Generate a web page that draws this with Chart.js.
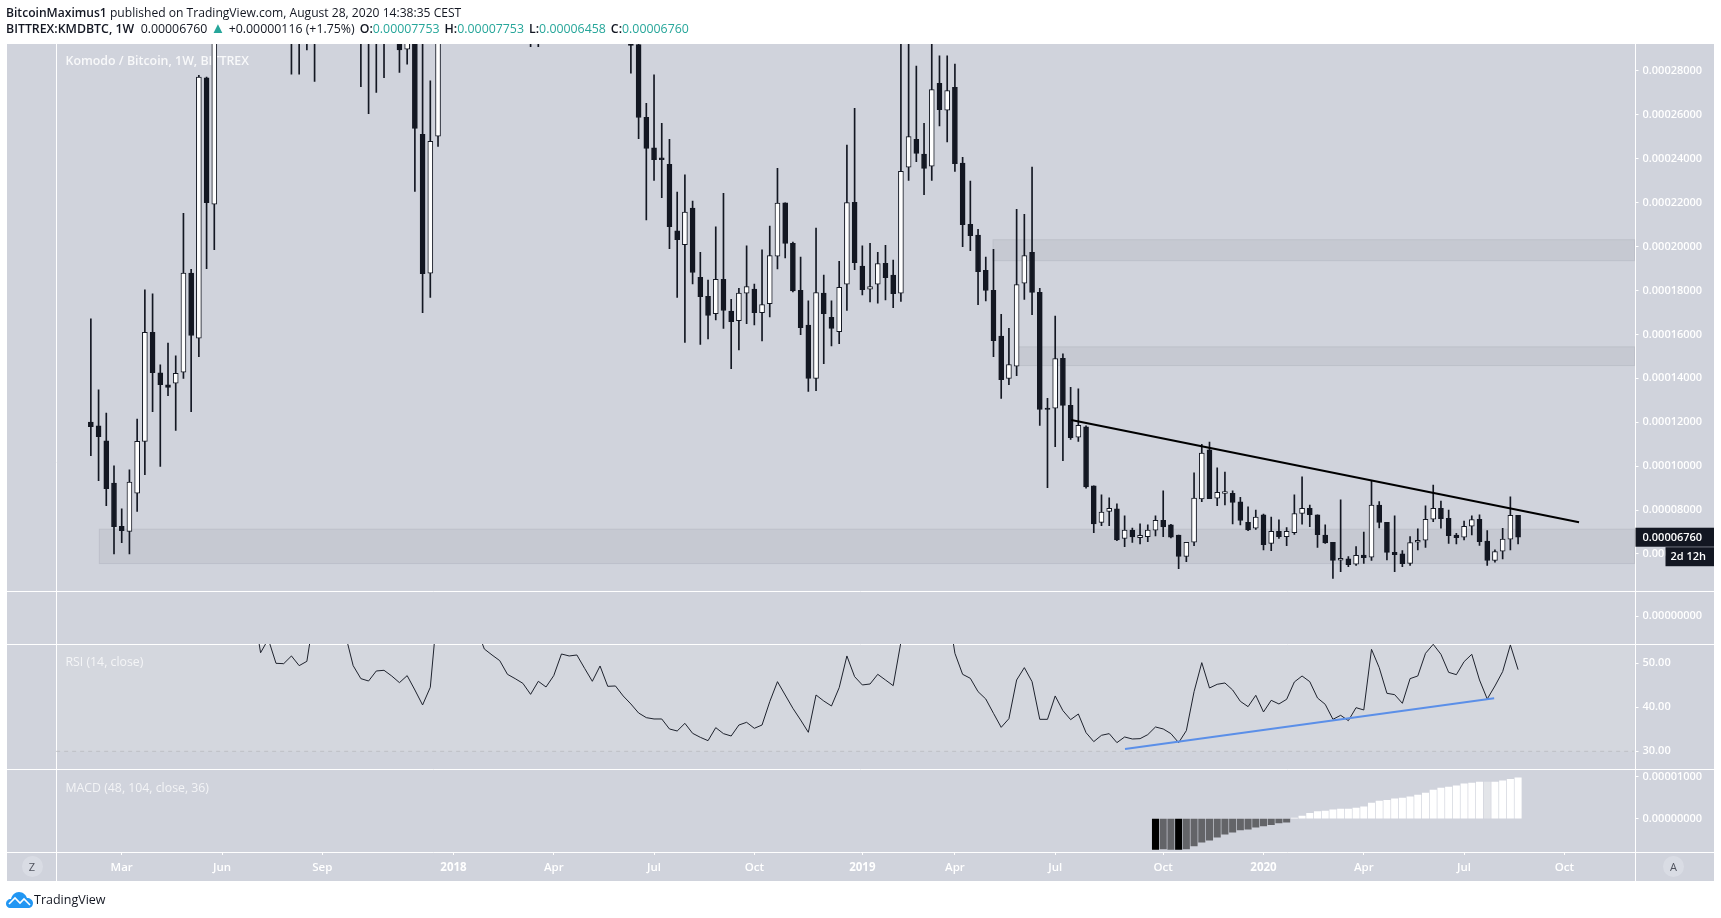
<!DOCTYPE html>
<html>
<head>
<meta charset="utf-8">
<title>KMDBTC</title>
<script src="https://cdn.jsdelivr.net/npm/chart.js@4/dist/chart.umd.js"></script>
<style>
  html, body { margin: 0; padding: 0; background: #fff; overflow: hidden; }
  #wrap { position: relative; width: 1721px; height: 918px; font-family: "Open Sans", sans-serif; color: #131722; }
  canvas { position: absolute; left: 0; top: 0; }
  .head { position: absolute; left: 6px; font-size: 12.1px; white-space: nowrap; line-height: 16px; }
  .head b { font-weight: 600; }
  .up { color: #26a69a; }
  .gap { margin-left: 5px; }
  .round { position: absolute; top: 856px; width: 21px; height: 21px; border-radius: 50%; background: #d9dce4; color: #50535e;
           font-size: 11px; line-height: 21px; text-align: center; }
  #logo { position: absolute; left: 6px; top: 892px; }
  #logoText { position: absolute; left: 34px; top: 891px; font-size: 12.5px; line-height: 17px; }
</style>
</head>
<body>
<div id="wrap">
  <canvas id="grafico" width="1721" height="918"></canvas>
  <div class="head" style="top:5px"><b>BitcoinMaximus1</b> published on TradingView.com, August 28, 2020 14:38:35 CEST</div>
  <div class="head" style="top:21px;font-size:12.35px"><b>BITTREX:KMDBTC, 1W</b>&nbsp; 0.00006760 <span class="up" style="font-size:15px;line-height:10px">▲</span> +0.00000116 (+1.75%)<b class="gap">O:</b><span class="up">0.00007753</span><b class="gap">H:</b><span class="up">0.00007753</span><b class="gap">L:</b><span class="up">0.00006458</span><b class="gap">C:</b><span class="up">0.00006760</span></div>
  <div class="round" style="left:21.5px">Z</div>
  <div class="round" style="left:1663px">A</div>
  <svg id="logo" width="27" height="16" viewBox="0 0 27 16"><path d="M0 12 C0 9 2 7 5 7 C6 3 9 0 13 0 C17 0 20 3 21 6 C24 6 27 8 27 11 C27 14 25 16 22 16 L4 16 C2 16 0 14 0 12 Z" fill="#2196f3"/><path d="M3 12 L9 6 L14 11 L18 7 L24 13" fill="none" stroke="#fff" stroke-width="1.6"/></svg>
  <div id="logoText">TradingView</div>
</div>
<script>
// prices are in units of 0.00001 BTC, one candle per week starting at week 0
const opens = [12.00,11.83,11.15,9.23,7.26,7.03,8.77,11.13,16.10,14.25,13.70,13.78,14.28,18.79,15.83,27.69,21.93,34,52,62,55,70,60,50,44,38,35,33,34,36,33,34,37,35,36,34,33,32,33,31.5,31,28.99,30.5,25.12,18.79,25.03,33,38,42,45,43,40,38,36,38,35,33,35,32,34,37,40,38,36,35,34,35,33,34,32.5,31,29.20,25.89,24.50,24.04,23.75,20.72,20.09,21.75,18.60,17.74,16.95,18.51,17.06,16.63,17.88,18.06,16.99,17.40,19.56,21.99,20.15,18.01,16.43,14.00,17.88,16.78,16.13,18.29,22.02,19.11,18.06,18.29,19.24,18.70,17.88,23.62,24.89,24.21,23.66,27.44,26.21,27.26,23.80,21.02,20.52,18.92,18.01,15.92,13.99,14.55,18.33,19.74,17.92,12.64,12.64,14.91,12.77,11.32,11.79,9.10,7.43,7.93,8.05,6.70,7.09,6.74,6.79,7.08,7.53,7.32,6.86,5.88,6.53,8.50,10.74,8.54,8.76,8.76,8.37,7.44,7.17,7.78,6.48,7.03,6.79,6.97,7.85,8.08,7.78,6.86,6.53,5.71,5.77,5.53,5.95,5.85,8.22,7.44,6.07,6.00,5.57,6.53,6.62,7.58,8.08,7.62,6.86,6.76,7.26,7.58,6.58,5.70,6.12,6.67,7.753];
const highs = [16.71,13.47,12.41,10.01,8.05,9.83,12.14,18.03,17.85,14.61,15.60,15.02,21.52,18.97,27.80,27.72,36,58,70,72,76,78,66,56,50,42,39,38,40,41,38,42,44,40,40,38,37,36,35,35,33,33,33,31,27.55,38,44,46,50,52,48,45,43,41,42,39,37,38,36,40,43,44,42,40,39,37,38,37,36,34.5,33,30.5,26.53,27.82,25.62,24.89,22.48,23.27,22.07,19.74,18.48,20.90,22.43,17.60,18.10,20.03,18.29,19.85,20.94,23.57,21.99,20.21,19.52,17.53,20.84,18.70,17.53,19.33,24.62,26.30,20.03,20.15,19.74,20.06,19.39,31,31,28.22,25.62,30.5,28.69,28.69,28.32,24.07,22.98,20.79,19.52,19.88,16.92,16.28,21.70,21.47,23.62,18.10,13.09,16.84,15.11,13.59,13.52,11.83,9.10,8.69,8.55,8.28,7.73,7.18,7.37,7.32,7.73,8.87,7.35,6.86,6.53,9.69,10.99,11.10,9.92,9.73,8.87,8.58,8.14,8.00,7.81,7.68,7.55,7.20,8.69,9.51,8.23,7.78,7.32,6.53,8.46,5.88,6.33,6.99,9.34,8.38,7.44,7.73,6.15,6.79,7.14,8.19,9.14,8.41,8.00,6.94,7.50,7.73,7.78,7.06,6.18,7.17,8.60,7.753];
const lows = [10.48,9.34,8.20,6.00,6.51,6.00,7.93,9.61,12.48,9.98,13.21,11.62,13.99,12.48,14.99,19.00,19.86,31,48,50,52,55,46,40,34,31,27.85,27.85,28.96,27.52,30,32,31,31,30,27.29,26.06,27.02,27.70,29.5,27.93,28.31,22.51,16.99,17.68,24.56,31,33,37,40,38,36,34,33,33,31,30,29.11,29.11,31,33,36,34,33,32,31,32,30.5,31,29.8,27.90,24.92,21.22,23.01,22.23,19.91,17.68,15.63,18.30,15.54,15.79,16.66,16.27,14.44,15.29,16.49,16.43,15.70,16.80,18.98,19.49,17.94,15.99,13.40,13.44,14.67,15.48,15.58,17.09,18.95,17.80,17.48,17.42,17.57,17.22,17.50,23.01,23.87,22.37,23.01,25.50,24.77,23.42,20.00,19.82,17.36,17.53,14.99,13.08,13.71,14.12,17.59,16.90,11.85,9.02,10.89,10.25,11.21,11.12,9.00,6.97,7.29,7.29,6.60,6.33,6.52,6.45,6.56,6.82,6.79,6.73,5.33,5.65,6.38,8.38,8.52,8.20,8.23,7.37,7.32,7.06,7.12,6.18,6.15,6.71,6.38,6.89,7.35,7.24,6.29,6.48,4.88,5.19,5.42,5.47,5.57,5.70,7.18,5.73,5.19,5.42,5.48,6.18,6.30,7.47,7.17,6.48,6.45,6.64,6.86,6.39,5.47,5.62,5.77,6.18,6.458];
const closes = [11.80,11.34,8.97,7.24,7.06,9.27,11.13,16.10,14.26,13.71,13.58,14.23,18.79,15.95,27.72,22.00,34,52,62,55,70,60,50,44,38,35,33,34,36,33,34,37,35,36,34,33,32,33,31.5,31,28.96,30.5,25.38,18.77,24.80,33,38,42,45,43,40,38,36,38,35,33,35,32,34,37,40,38,36,35,34,35,33,34,32.5,31,29.16,25.88,24.47,23.96,23.96,20.91,20.32,21.57,18.82,17.72,16.86,18.51,17.09,16.58,17.88,18.18,16.99,17.36,19.59,21.98,20.14,17.98,16.31,13.99,17.91,16.95,16.27,18.15,22.01,19.27,18.04,18.18,19.23,18.59,17.86,23.43,25.01,24.24,23.56,27.15,26.24,27.11,23.78,21.00,20.50,18.86,18.00,15.72,13.94,14.63,18.27,19.59,17.91,12.58,12.58,14.90,12.76,11.30,11.86,9.05,7.37,7.90,8.08,6.64,7.08,6.77,6.85,7.08,7.53,7.23,6.76,5.88,6.53,8.54,10.59,8.52,8.81,8.84,8.34,7.52,7.09,7.68,6.42,7.03,6.79,7.03,7.84,8.08,7.79,6.88,6.50,5.70,5.80,5.51,5.94,5.83,8.22,7.43,6.07,5.97,5.56,6.52,6.62,7.58,8.08,7.61,6.83,6.74,7.26,7.56,6.56,5.70,6.11,6.67,7.76,6.76];

// RSI starts at week 14
const rsiStart = 14;
const rsiValues = [68,65,72,75,76,74,70,63.3,52.4,55.5,50.0,49.92,51.67,49.47,50.45,61.6,64,66,63,56.5,49.47,46.52,45.98,48.26,48.41,47.12,45.61,47.2,43.94,40.53,44.55,63.8,66,68,67,64,58,53.26,51.89,50.61,47.5,46.52,45.45,42.95,45.91,44.62,47.2,52.12,51.67,51.89,48.86,45.91,49.39,44.77,44.85,42.58,40.76,38.71,37.65,37.35,37.35,35.08,34.62,36.36,34.09,33.18,32.42,35.38,34.02,33.48,35.98,36.59,35.23,35.98,41.29,45.83,42.8,39.77,37.12,34.32,42.8,41.44,40.3,44.47,51.67,46.97,45.08,45.3,47.5,46.21,44.92,54.8,57,58,60,62,60,63.6,52.27,47.5,46.59,43.56,41.89,38.64,35.45,37.42,46.21,49.02,45.83,37.27,37.27,42.58,39.24,37.2,38.48,34.24,32.2,33.64,34.02,31.97,33.26,32.8,32.88,33.79,35.53,35.08,34.02,31.97,34.7,43.56,50.15,44.39,45.23,45.53,43.94,41.36,40.15,42.73,38.94,41.59,40.76,41.82,45.76,47.12,45.83,42.12,40.68,37.27,38.18,36.97,39.92,39.39,53.18,49.02,43.18,42.88,40.91,46.52,47.12,52.27,54.32,52.05,47.95,47.42,50.38,52.05,46.21,41.89,44.85,48.11,54.17,48.56];

// MACD histogram starts at week 138
const macdStart = 138;
const macdValues = [-0.73,-0.72,-0.73,-0.73,-0.72,-0.65,-0.56,-0.51,-0.44,-0.37,-0.32,-0.27,-0.25,-0.20,-0.17,-0.14,-0.10,-0.08,0.01,0.06,0.13,0.17,0.18,0.21,0.23,0.23,0.25,0.28,0.37,0.42,0.44,0.47,0.49,0.52,0.56,0.61,0.68,0.73,0.75,0.78,0.83,0.85,0.87,0.87,0.87,0.90,0.94,0.97];
const macdBlackWeeks = [138, 141];
const macdFadedWeeks = [181];

const priceTicks = [6,8,10,12,14,16,18,20,22,24,26,28];
const rsiTicks = [30,40,50];
const macdTicks = [0,1];
const dateTickWeeks = [4,17,30,47,60,73,86,100,112,125,139,152,165,178,191];
const dateTickLabels = ["Mar","Jun","Sep","2018","Apr","Jul","Oct","2019","Apr","Jul","Oct","2020","Apr","Jul","Oct"];

const resistanceWeeks = [127.08, 192.9];
const resistancePrices = [12.10, 7.44];
const rsiTrendWeeks = [134.05, 181.9];
const rsiTrendValues = [30.53, 42.05];

const zoneStartWeeks = [1.1, 116.95, 120.07];
const zoneTops = [7.125, 20.31, 15.43];
const zoneBottoms = [5.56, 19.36, 14.58];

const leftLineWeek = -4.5;
const weeks = closes.map((c, i) => i);
const DARK = "#131722";
const FONT = '"Open Sans", sans-serif';

function btc(v) { return (v * 1e-5).toFixed(8); }
function fixedTicks(list) { return scale => { scale.ticks = list.map(v => ({ value: v })); }; }
function axisWidth(scale) { scale.width = 79.5; }
function dateFont(ctx) {
  const label = ctx.tick ? dateTickLabels[dateTickWeeks.indexOf(ctx.tick.value)] : "";
  return { family: FONT, size: 11.5, weight: label && label.length === 4 ? "700" : "600" };
}

function paneAxis(weight, order, min, max, list, label) {
  return {
    type: "linear", position: "right", stack: "panes", stackWeight: weight, weight: order,
    min, max,
    afterBuildTicks: fixedTicks(list),
    afterFit: axisWidth,
    border: { display: false },
    grid: { drawOnChartArea: false, drawTicks: true, tickLength: 4, color: "#ffffff" },
    ticks: { color: "#ffffff", font: { family: FONT, size: 11, weight: "600" }, padding: 4, callback: label, autoSkip: false, maxRotation: 0 }
  };
}

const paneDecor = {
  id: "paneDecor",
  beforeDraw(chart) {
    const { ctx, chartArea: a, scales: s } = chart;
    ctx.save();
    ctx.fillStyle = "#d0d3dc";
    ctx.fillRect(a.left, a.top, s.main.right - a.left, s.x.bottom - a.top);
    ctx.restore();
  },
  beforeDatasetsDraw(chart) {
    const { ctx, chartArea: a, scales: s } = chart;
    const right = s.main.right;
    ctx.save();

    const band = s.rsi.getPixelForValue(30);
    ctx.fillStyle = "#d4d7de";
    ctx.fillRect(s.x.getPixelForValue(leftLineWeek), s.rsi.top, a.right - s.x.getPixelForValue(leftLineWeek), band - s.rsi.top);

    zoneStartWeeks.forEach((w, i) => {
      const x = s.x.getPixelForValue(w);
      const top = s.main.getPixelForValue(zoneTops[i]);
      const bottom = s.main.getPixelForValue(zoneBottoms[i]);
      ctx.fillStyle = "#c6c9d2";
      ctx.fillRect(x, top, a.right - x, bottom - top);
      ctx.strokeStyle = "#bdc0ca";
      ctx.lineWidth = 1;
      ctx.strokeRect(x, top, a.right - x, bottom - top);
    });

    ctx.strokeStyle = "#ffffff";
    ctx.lineWidth = 1;
    ctx.beginPath();
    [s.main.bottom, s.rsi.top, s.rsi.bottom, s.macd.bottom].forEach(y => {
      ctx.moveTo(a.left, Math.round(y) + 0.5);
      ctx.lineTo(right, Math.round(y) + 0.5);
    });
    const lx = Math.round(s.x.getPixelForValue(leftLineWeek)) + 0.5;
    ctx.moveTo(lx, a.top);
    ctx.lineTo(lx, s.x.bottom);
    const rx = Math.round(a.right) + 0.5;
    ctx.moveTo(rx, a.top);
    ctx.lineTo(rx, s.x.bottom);
    ctx.stroke();

    ctx.textAlign = "left";
    ctx.textBaseline = "middle";
    ctx.font = "600 12.4px " + FONT;
    ctx.fillStyle = "rgba(255,255,255,0.85)";
    ctx.fillText("Komodo / Bitcoin, 1W, BITTREX", lx + 9, s.main.top + 17);
    ctx.font = "12.3px " + FONT;
    ctx.fillStyle = "rgba(255,255,255,0.75)";
    ctx.fillText("RSI (14, close)", lx + 9, s.rsi.top + 18);
    ctx.fillText("MACD (48, 104, close, 36)", lx + 9, s.rsi.bottom + 19);
    ctx.restore();
  },
  afterDraw(chart) {
    const { ctx, chartArea: a, scales: s } = chart;
    const right = s.main.right;
    const y = s.main.getPixelForValue(closes[closes.length - 1]);
    ctx.save();
    ctx.fillStyle = DARK;
    ctx.fillRect(a.right + 1, y - 9.5, right - a.right - 1, 19);
    ctx.fillRect(a.right + 31, y + 10, right - a.right - 31, 19);
    ctx.fillStyle = "#ffffff";
    ctx.textBaseline = "middle";
    ctx.textAlign = "left";
    ctx.font = "600 11px " + FONT;
    ctx.fillText(btc(closes[closes.length - 1]), a.right + 8, y + 0.5);
    ctx.fillText("2d 12h", a.right + 36, y + 20);
    ctx.restore();
  }
};

new Chart(document.getElementById("grafico"), {
  type: "bar",
  plugins: [paneDecor],
  data: {
    datasets: [
      {
        label: "wicks", yAxisID: "main", grouped: false, order: 5, barThickness: 1,
        backgroundColor: DARK, borderWidth: 0,
        data: weeks.map(i => ({ x: i, y: [lows[i], highs[i]] }))
      },
      {
        label: "candles", yAxisID: "main", grouped: false, order: 4, barThickness: 5,
        backgroundColor: weeks.map(i => closes[i] >= opens[i] ? "#ffffff" : DARK),
        borderColor: DARK, borderWidth: 1, borderSkipped: false,
        data: weeks.map(i => ({ x: i, y: [opens[i], closes[i]] }))
      },
      {
        label: "resistance", type: "line", yAxisID: "main", order: 1,
        borderColor: "#000000", borderWidth: 2.2, pointRadius: 0,
        data: resistanceWeeks.map((w, i) => ({ x: w, y: resistancePrices[i] }))
      },
      {
        label: "RSI", type: "line", yAxisID: "rsi", order: 3,
        borderColor: "#1e222d", borderWidth: 1, pointRadius: 0, tension: 0,
        data: rsiValues.map((v, i) => ({ x: rsiStart + i, y: v }))
      },
      {
        label: "RSI 30", type: "line", yAxisID: "rsi", order: 6,
        borderColor: "#bdc0c4", borderWidth: 1, borderDash: [4, 4], pointRadius: 0,
        data: [{ x: leftLineWeek, y: 30 }, { x: 200, y: 30 }]
      },
      {
        label: "RSI trend", type: "line", yAxisID: "rsi", order: 2,
        borderColor: "#5b8fe8", borderWidth: 2, pointRadius: 0,
        data: rsiTrendWeeks.map((w, i) => ({ x: w, y: rsiTrendValues[i] }))
      },
      {
        label: "MACD", yAxisID: "macd", grouped: false, order: 4, barThickness: 6.4,
        backgroundColor: macdValues.map((v, i) => {
          const w = macdStart + i;
          if (macdBlackWeeks.includes(w)) return "#000000";
          if (macdFadedWeeks.includes(w)) return "#e3e5e9";
          return v < 0 ? "#636468" : "#ffffff";
        }),
        data: macdValues.map((v, i) => ({ x: macdStart + i, y: v }))
      }
    ]
  },
  options: {
    responsive: false,
    animation: false,
    layout: { autoPadding: false, padding: { left: 7, top: 44, right: 7, bottom: 37 } },
    plugins: { legend: { display: false }, tooltip: { enabled: false } },
    scales: {
      x: {
        type: "linear", min: -10.87, max: 200.09, offset: false,
        afterBuildTicks: fixedTicks(dateTickWeeks),
        afterFit(scale) { scale.height = 29; },
        border: { display: false },
        grid: { drawOnChartArea: false, drawTicks: true, tickLength: 3, color: "#ffffff", offset: false },
        ticks: {
          color: "#ffffff", padding: 6, autoSkip: false, maxRotation: 0,
          font: dateFont,
          callback: v => dateTickLabels[dateTickWeeks.indexOf(v)]
        }
      },
      main: paneAxis(547, 1, 4.31, 29.23, priceTicks, v => btc(v)),
      vol: paneAxis(53, 2, -1.12, 1, [0], () => btc(0)),
      rsi: paneAxis(125, 3, 25.98, 54.39, rsiTicks, v => v.toFixed(2)),
      macd: paneAxis(83, 4, -0.793, 1.183, macdTicks, v => btc(v))
    }
  }
});
</script>
</body>
</html>
